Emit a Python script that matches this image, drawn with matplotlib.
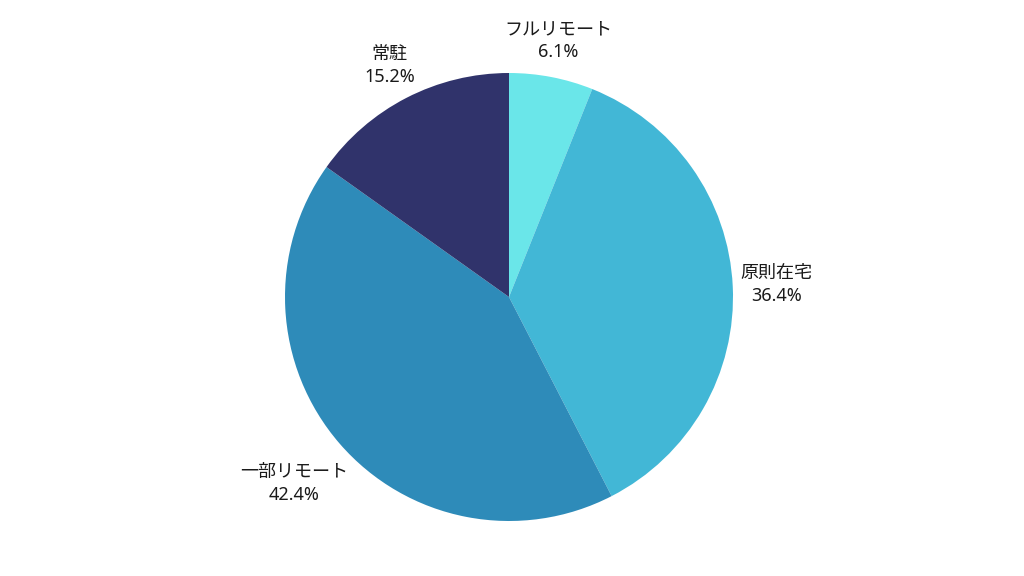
import matplotlib
matplotlib.use("Agg")
import matplotlib.pyplot as plt
import numpy as np

labels = ["フルリモート", "原則在宅", "一部リモート", "常駐"]
values = [2, 12, 14, 5]
colors = ["#6ae6e9", "#42b7d6", "#2e8bb9", "#30336b"]

plt.rcParams['font.family'] = ['Noto Sans', 'Noto Sans CJK JP', 'DejaVu Sans']

W, H, DPI = 1024, 576, 100
fig = plt.figure(figsize=(W / DPI, H / DPI), dpi=DPI)
ax = fig.add_axes([0, 0, 1, 1])
R = 224.0
cx, cy = 509.0, 576 - 297.0

wedges, _ = ax.pie(values, colors=colors, startangle=90, counterclock=False,
                   radius=1.0, wedgeprops=dict(linewidth=0))
ax.set_xlim(-cx / R, (W - cx) / R)
ax.set_ylim(-cy / R, (H - cy) / R)
ax.set_aspect('equal')
ax.axis('off')

total = sum(values)
fig.canvas.draw()
renderer = fig.canvas.get_renderer()
d = 1.03
for w, lab, v in zip(wedges, labels, values):
    ang = np.deg2rad((w.theta1 + w.theta2) / 2)
    ux, uy = np.cos(ang), np.sin(ang)
    t = ax.text(0, 0, f"{lab}\n{v / total * 100:.1f}%", ha='center', va='center',
                fontsize=13, color='#1a1a1a', linespacing=1.35)
    bb = t.get_window_extent(renderer)
    wpx, hpx = bb.width, bb.height
    proj = (abs(ux) * wpx / 2 + abs(uy) * hpx / 2) / R
    t.set_position(((d + proj) * ux, (d + proj) * uy))

fig.savefig("out.png", dpi=DPI)
